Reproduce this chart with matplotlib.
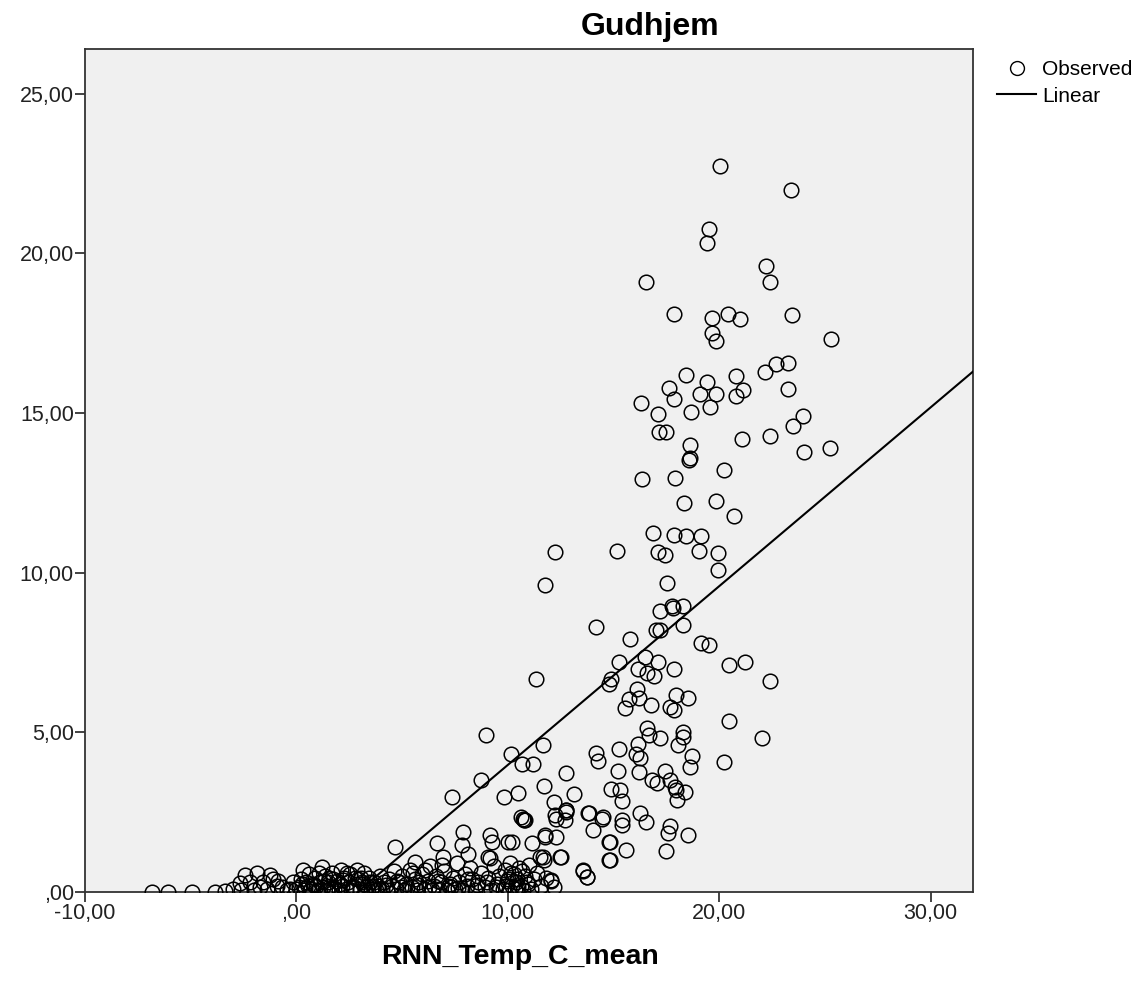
"""
Gudhjem: observed values against RNN_Temp_C_mean, with a linear fit (SPSS style).
Outputs: out.png
"""

import numpy as np
import matplotlib
matplotlib.use("Agg")
import matplotlib.pyplot as plt
from matplotlib.lines import Line2D
from matplotlib.ticker import FuncFormatter

matplotlib.rcParams.update({
    "font.family": ["Liberation Sans", "DejaVu Sans"],
    "font.size": 15,
})

TITLE = "Gudhjem"
X_LABEL = "RNN_Temp_C_mean"

# high values (y > ~8.5)
upper_x = [20.02, 23.38, 19.52, 19.42, 22.21, 22.42, 16.52, 17.87, 19.67, 20.40,
           20.97, 23.43, 19.67, 19.83, 25.29, 22.67, 23.27, 22.17, 18.43, 20.81,
           19.42, 17.62, 21.13, 23.27, 19.11, 19.86, 20.78, 17.87, 16.30, 19.58,
           17.09, 18.67, 23.96, 23.49, 17.15, 17.50, 21.09, 22.42, 18.60, 18.60,
           18.58, 23.99, 25.22, 20.21, 16.35, 17.91, 18.34, 19.83, 20.71, 16.87,
           17.85, 18.42, 19.15, 12.21, 15.18, 17.11, 17.45, 19.04, 19.94, 19.96,
           11.78, 17.54, 17.19, 17.78, 18.29, 17.80]
upper_y = [22.74, 21.97, 20.77, 20.31, 19.60, 19.09, 19.10, 18.10, 17.98, 18.10,
           17.93, 18.06, 17.50, 17.26, 17.31, 16.53, 16.56, 16.27, 16.19, 16.16,
           15.98, 15.79, 15.71, 15.75, 15.60, 15.60, 15.53, 15.44, 15.31, 15.19,
           14.98, 15.02, 14.91, 14.59, 14.40, 14.40, 14.19, 14.27, 14.00, 13.60,
           13.54, 13.77, 13.90, 13.23, 12.94, 12.98, 12.19, 12.23, 11.77, 11.23,
           11.19, 11.15, 11.16, 10.65, 10.69, 10.65, 10.56, 10.69, 10.61, 10.09,
           9.61, 9.69, 8.79, 8.97, 8.97, 8.90]

# middle values (y ~1 to 8.5)
mid_x = [14.19, 18.29, 15.80, 17.00, 17.19, 19.15, 19.52, 15.26, 16.49, 17.12,
         20.46, 21.22, 16.16, 17.85, 16.58, 16.90, 14.89, 14.76, 11.32, 22.42,
         16.11, 15.71, 16.21, 15.55, 16.77, 17.97, 18.54, 17.66, 17.85, 20.46,
         22.04, 8.96, 16.58, 16.68, 17.19, 18.29, 18.27, 18.07, 16.17, 15.26,
         11.64, 10.13, 14.19, 14.28, 16.08, 16.27, 18.73, 18.60, 10.66, 11.20,
         20.24, 12.74, 15.23, 16.21, 17.43, 8.71, 7.38, 9.84, 10.50, 11.70,
         13.12, 12.17, 12.74, 12.76, 12.30, 13.84, 14.44, 14.90, 15.30, 15.42,
         16.84, 17.03, 17.66, 17.97, 18.37, 18.00, 17.90, 15.42, 15.42, 16.27,
         16.55, 14.03, 14.79, 17.69, 17.56, 18.54, 15.61, 17.47, 14.79, 13.56,
         13.72, 12.02, 10.75, 10.70, 11.76, 12.30, 12.49, 11.16, 11.64]
mid_y = [8.29, 8.36, 7.91, 8.19, 8.21, 7.79, 7.73, 7.21, 7.35, 7.19,
         7.11, 7.19, 6.97, 6.98, 6.87, 6.77, 6.67, 6.52, 6.66, 6.60,
         6.37, 6.03, 6.08, 5.77, 5.86, 6.18, 6.09, 5.78, 5.71, 5.36,
         4.82, 4.91, 5.15, 4.92, 4.82, 5.02, 4.85, 4.60, 4.63, 4.48,
         4.60, 4.32, 4.35, 4.10, 4.31, 4.21, 4.25, 3.92, 4.02, 4.02,
         4.06, 3.74, 3.78, 3.75, 3.79, 3.50, 2.99, 2.98, 3.10, 3.32,
         3.08, 2.82, 2.56, 2.50, 2.30, 2.46, 2.30, 3.24, 3.19, 2.85,
         3.50, 3.42, 3.50, 3.19, 3.13, 2.88, 3.30, 2.25, 2.09, 2.46,
         2.19, 1.94, 1.57, 2.08, 1.86, 1.77, 1.31, 1.27, 1.00, 0.66,
         0.48, 0.35, 2.25, 2.30, 1.73, 1.71, 1.10, 1.52, 1.10]

# low values between 4 and 15 degrees
low_x = [4.66, 5.60, 6.63, 6.94, 7.81, 7.89, 8.12, 9.15, 9.23, 10.02,
         10.20, 9.07, 11.75, 11.51, 11.70, 12.46, 12.06, 10.64, 10.80, 12.22,
         12.77, 12.70, 13.80, 14.51, 14.82, 14.82, 13.56, 13.72, 9.15]
low_y = [1.42, 0.95, 1.52, 1.10, 1.47, 1.88, 1.20, 1.78, 1.57, 1.57,
         1.57, 1.10, 1.78, 1.10, 1.00, 1.10, 0.38, 2.35, 2.25, 2.40,
         2.56, 2.25, 2.46, 2.35, 1.57, 1.00, 0.69, 0.48, 1.06]

# dense band near zero
band_x = [-6.85, -6.06, -4.96, -3.85, -3.38, -2.99, -2.67, -2.43, -2.20, -1.88,
          -1.57, -1.25, -0.94, -1.10, -0.46, -0.15, 0.00, 0.32, -1.40, -2.00,
          -0.70, -2.60, -1.70, -0.30, -0.85,
          0.10, 0.20, 0.35, 0.45, 0.60, 0.70, 0.80, 0.90, 1.00, 1.10,
          1.20, 1.25, 1.35, 1.45, 1.50, 1.60, 1.70, 1.80, 1.90, 2.00,
          2.10, 2.15, 2.25, 2.35, 2.45, 2.55, 2.60, 2.70, 2.85, 2.90,
          3.00, 3.10, 3.20, 3.25, 3.35, 3.45, 3.55, 3.65, 3.75, 3.85,
          3.95, 4.05, 4.15, 0.55, 1.05, 1.55, 2.05, 2.75, 3.05, 0.25,
          0.95, 1.75, 2.40, 3.50, 3.90,
          4.30, 4.40, 4.50, 4.60, 4.70, 4.85, 5.00, 5.10, 5.20, 5.35,
          5.45, 5.60, 5.70, 5.80, 5.95, 6.05, 6.20, 6.30, 6.40, 6.50,
          6.60, 6.75, 6.85, 7.00, 7.10, 7.25, 7.40, 7.50, 7.60, 7.70,
          7.85, 7.95, 8.05, 8.20, 8.30, 4.95, 5.50, 6.10, 6.90, 7.30,
          8.45, 8.60, 8.75, 8.90, 9.05, 9.20, 9.35, 9.50, 9.60, 9.75,
          9.85, 9.95, 10.05, 10.10, 10.20, 10.30, 10.35, 10.45, 10.55, 10.60,
          10.70, 10.80, 10.90, 11.00, 11.10, 11.25, 11.40, 11.55, 11.80, 12.20,
          10.15, 10.40, 10.65, 9.90,
          0.40, 0.85, 1.30, 1.65, 2.20, 2.65, 3.15, 3.60, 4.25, 4.75,
          5.25, 5.75, 6.25, 6.70, 7.20, 7.65, 8.10, 8.55, 9.00, 9.45,
          10.00, 10.50, 10.95]
band_y = [0.00, 0.00, 0.00, 0.00, 0.02, 0.08, 0.27, 0.53, 0.30, 0.58,
          0.30, 0.53, 0.20, 0.42, 0.05, 0.30, 0.10, 0.69, 0.10, 0.05,
          0.15, 0.05, 0.15, 0.10, 0.35,
          0.15, 0.40, 0.05, 0.30, 0.55, 0.10, 0.25, 0.45, 0.05, 0.30,
          0.78, 0.15, 0.50, 0.05, 0.30, 0.20, 0.60, 0.10, 0.35, 0.05,
          0.68, 0.20, 0.45, 0.10, 0.30, 0.55, 0.05, 0.20, 0.68, 0.40,
          0.10, 0.30, 0.60, 0.05, 0.20, 0.45, 0.10, 0.30, 0.05, 0.20,
          0.50, 0.10, 0.30, 0.20, 0.60, 0.45, 0.25, 0.45, 0.45, 0.25,
          0.20, 0.40, 0.60, 0.30, 0.10,
          0.05, 0.40, 0.20, 0.65, 0.10, 0.30, 0.50, 0.05, 0.25, 0.70,
          0.15, 0.40, 0.05, 0.30, 0.55, 0.10, 0.35, 0.80, 0.05, 0.20,
          0.50, 0.10, 0.30, 0.65, 0.05, 0.25, 0.45, 0.10, 0.90, 0.30,
          0.05, 0.55, 0.20, 0.75, 0.40, 0.15, 0.60, 0.70, 0.85, 0.15,
          0.05, 0.30, 0.60, 0.15, 0.45, 0.05, 0.80, 0.25, 0.50, 0.10,
          0.70, 0.35, 0.05, 0.90, 0.20, 0.55, 0.10, 0.40, 0.75, 0.20,
          0.05, 0.50, 0.30, 0.85, 0.10, 0.40, 0.60, 0.20, 0.45, 0.15,
          0.60, 0.30, 0.65, 0.20,
          0.12, 0.22, 0.35, 0.12, 0.38, 0.15, 0.25, 0.18, 0.22, 0.35,
          0.12, 0.22, 0.15, 0.35, 0.20, 0.12, 0.40, 0.22, 0.30, 0.15,
          0.40, 0.15, 0.25]

# linear fit shown by SPSS
LINE_INTERCEPT = -1.62
LINE_SLOPE = 0.56

X_TICKS = [-10, 0, 10, 20, 30]
Y_TICKS = [0, 5, 10, 15, 20, 25]
X_LIM = (-10, 32)
Y_LIM = (0, 26.4)

obs_x = np.array(upper_x + mid_x + low_x + band_x)
obs_y = np.array(upper_y + mid_y + low_y + band_y)


def spss_fmt(v, pos=None):
    s = f"{v:.2f}".replace(".", ",")
    if s.startswith("0,"):
        s = s[1:]
    return s


fig = plt.figure(figsize=(11.48, 9.90), dpi=100)
ax = fig.add_axes([0.0740, 0.0990, 0.7736, 0.8515])
ax.set_facecolor("#F0F0F0")

ax.plot(obs_x, obs_y, linestyle="none", marker="o", markersize=10.5,
        markerfacecolor="none", markeredgecolor="black", markeredgewidth=1.1,
        zorder=3)

line_x = np.array(X_LIM, dtype=float)
ax.plot(line_x, LINE_INTERCEPT + LINE_SLOPE * line_x, color="black",
        linewidth=1.5, zorder=4)

ax.set_xlim(*X_LIM)
ax.set_ylim(*Y_LIM)
ax.set_xticks(X_TICKS)
ax.set_yticks(Y_TICKS)
ax.xaxis.set_major_formatter(FuncFormatter(spss_fmt))
ax.yaxis.set_major_formatter(FuncFormatter(spss_fmt))
ax.tick_params(direction="out", length=7, width=1.2, colors="#222222",
               labelsize=15.5, pad=1)
for sp in ax.spines.values():
    sp.set_color("#333333")
    sp.set_linewidth(1.3)

fig.text(650 / 1148, 1 - 27 / 990, TITLE, ha="center", va="center",
         fontsize=23, fontweight="bold")
ax.set_xlabel(X_LABEL, fontsize=20.5, fontweight="bold")
ax.xaxis.set_label_coords((520 - 85) / 888, -(957 - 892) / 843, transform=ax.transAxes)
ax.xaxis.label.set_va("center")

handles = [
    Line2D([], [], linestyle="none", marker="o", markersize=10,
           markerfacecolor="none", markeredgecolor="black", markeredgewidth=1.0),
    Line2D([], [], color="black", linewidth=1.5),
]
fig.legend(handles, ["Observed", "Linear"], loc="upper left",
           bbox_to_anchor=(989 / 1148, 1 - 52 / 990), frameon=False,
           fontsize=15, handlelength=1.85, handletextpad=0.3,
           labelspacing=0.35, borderaxespad=0)

fig.savefig("out.png", dpi=100)
plt.close(fig)
